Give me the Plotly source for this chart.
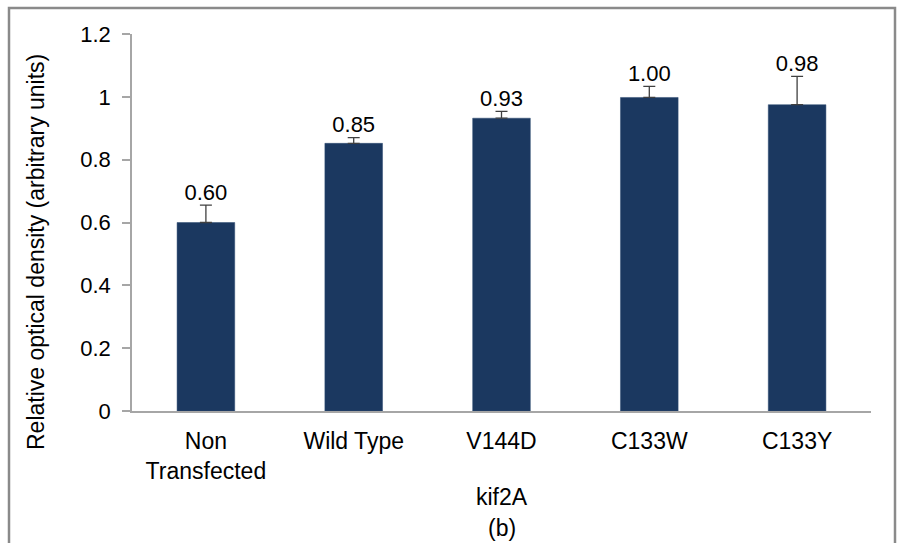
import plotly.graph_objects as go

categories = ["Non<br>Transfected", "Wild Type", "V144D", "C133W", "C133Y"]
values = [0.60, 0.852, 0.932, 0.998, 0.975]
errors = [0.055, 0.018, 0.022, 0.035, 0.090]
labels = ["0.60", "0.85", "0.93", "1.00", "0.98"]
y_ticks = [0, 0.2, 0.4, 0.6, 0.8, 1.0, 1.2]
y_ticktext = ["0", "0.2", "0.4", "0.6", "0.8", "1", "1.2"]

FONT = "Liberation Sans, Arial, sans-serif"
FS = 22
FS2 = 23
BAR = "#1b3860"
AXIS = "#a6a6a6"

fig = go.Figure()
fig.add_trace(go.Bar(
    x=categories, y=values,
    marker=dict(color=BAR, line=dict(color="#2d4a70", width=0.5)),
    width=0.39,
    error_y=dict(type="data", array=errors, arrayminus=[0] * len(errors),
                 symmetric=False, color="#404040", thickness=1.3, width=6),
    hoverinfo="skip",
))
fig.add_trace(go.Scatter(
    x=categories, y=[v + e for v, e in zip(values, errors)],
    mode="text", text=labels, textposition="top center",
    textfont=dict(family=FONT, size=FS, color="#000000"),
    hoverinfo="skip", cliponaxis=False,
))

PX0, PY0, PW, PH = 132, 411, 739, 377  # plot area (page px): left, bottom, width, height


def px(x):
    return (x - PX0) / PW


def py(y):
    return (PY0 - y) / PH


fig.update_layout(
    width=898, height=543,
    margin=dict(l=132, r=27, t=34, b=132),
    paper_bgcolor="white", plot_bgcolor="white",
    showlegend=False,
    font=dict(family=FONT, size=FS, color="#000000"),
    xaxis=dict(
        showgrid=False, showline=True, linecolor=AXIS, linewidth=1.5,
        ticks="", ticklabelstandoff=9,
        tickfont=dict(family=FONT, size=FS2, color="#000000"),
        zeroline=False,
    ),
    yaxis=dict(
        range=[0, 1.2], tickvals=y_ticks, ticktext=y_ticktext,
        showgrid=False, showline=True, linecolor=AXIS, linewidth=1.5,
        ticks="outside", ticklen=8, tickcolor=AXIS, tickwidth=1.5,
        ticklabelstandoff=7,
        tickfont=dict(family=FONT, size=FS, color="#000000"),
        zeroline=False,
    ),
    annotations=[
        dict(text="Relative optical density (arbitrary units)", textangle=-90,
             xref="paper", yref="paper", x=px(36), y=py(252),
             showarrow=False, font=dict(family=FONT, size=FS2, color="#000000"),
             xanchor="center", yanchor="middle"),
        dict(text="kif2A", xref="paper", yref="paper", x=0.5, y=py(497),
             showarrow=False, font=dict(family=FONT, size=FS2, color="#000000"),
             xanchor="center", yanchor="middle"),
        dict(text="(b)", xref="paper", yref="paper", x=0.5, y=py(528),
             showarrow=False, font=dict(family=FONT, size=FS2, color="#000000"),
             xanchor="center", yanchor="middle"),
    ],
    shapes=[
        dict(type="rect", xref="paper", yref="paper",
             x0=px(9), x1=px(895), y0=py(570), y1=py(8),
             line=dict(color="#8a8a8a", width=2.5), layer="below"),
    ],
)

fig.write_html(
    "out.html",
    config={"displayModeBar": False},
    post_script="document.body.style.margin='0';document.body.style.overflow='hidden';",
)
